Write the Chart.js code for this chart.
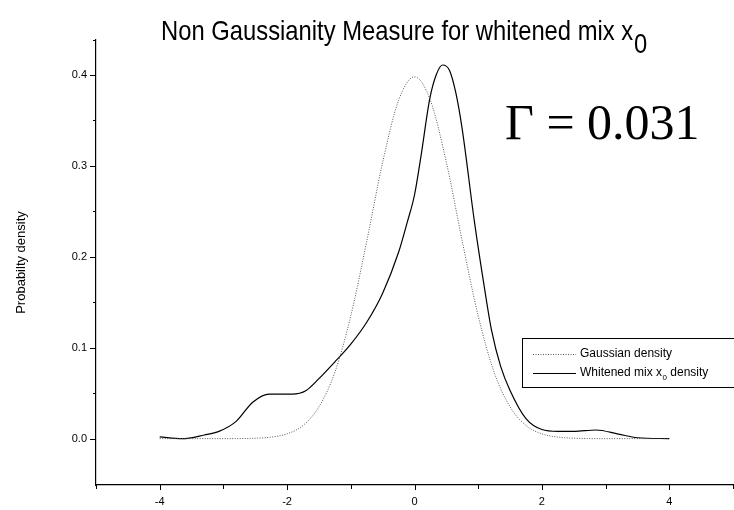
<!DOCTYPE html>
<html>
<head>
<meta charset="utf-8">
<script src="https://cdn.jsdelivr.net/npm/chart.js@4.4.1/dist/chart.umd.min.js"></script>
<style>
  html, body { margin: 0; padding: 0; background: #fff; }
  #wrap { width: 734px; height: 510px; position: relative; }
</style>
</head>
<body>
<div id="wrap"><canvas id="chart" width="734" height="510"></canvas></div>
<script>
// values
gaussX = [-4, -3, -2.5, -2.25, -2, -1.75, -1.5, -1.25, -1, -0.75, -0.5, -0.25, 0,
          0.25, 0.5, 0.75, 1, 1.25, 1.5, 1.75, 2, 2.25, 2.5, 3, 4]
gaussY = [0.000, 0.000, 0.0005, 0.0017, 0.0053, 0.0145, 0.035, 0.073, 0.135, 0.217, 0.304, 0.372, 0.398,
          0.372, 0.304, 0.217, 0.135, 0.073, 0.035, 0.0145, 0.0053, 0.0017, 0.0005, 0.000, 0.000]

mixX = [-4, -3.65, -3.3, -3.07, -2.8, -2.54, -2.28, -2.1, -1.92, -1.7, -1.5, -1.23, -1, -0.75, -0.5, -0.25, -0.11, 0,
        0.1, 0.24, 0.34, 0.44, 0.55, 0.65, 0.75, 0.94, 1.1, 1.21, 1.35, 1.5, 1.75, 2, 2.25, 2.5, 2.85, 3.2, 3.5, 4]
mixY = [0.002, 0.000, 0.004, 0.008, 0.019, 0.040, 0.049, 0.049, 0.049, 0.053, 0.066, 0.086, 0.104, 0.128, 0.160, 0.205, 0.239, 0.268,
        0.310, 0.374, 0.400, 0.411, 0.405, 0.380, 0.340, 0.239, 0.165, 0.119, 0.080, 0.053, 0.022, 0.010, 0.008, 0.008, 0.0095, 0.005, 0.001, 0.000]

xTicks = [-4, -2, 0, 2, 4]
xMinor = [-5, -3, -1, 1, 3, 5]
yTicks = [0.0, 0.1, 0.2, 0.3, 0.4]
yMinor = [0.05, 0.15, 0.25, 0.35]

titleText = 'Non Gaussianity Measure for whitened mix x'
gammaText = '\u0393 = 0.031'

function pts(xs, ys) {
  return xs.map((x, k) => ({ x: x, y: ys[k] }));
}

// title, tick marks, legend and the gamma label
const extras = {
  id: 'extras',
  afterDraw: (chart) => {
    const { ctx, scales: { x, y } } = chart;
    ctx.save();
    ctx.fillStyle = '#000';
    ctx.strokeStyle = '#000';
    ctx.lineWidth = 1;

    // title (narrow look) with a full-size lowered 0
    ctx.save();
    ctx.translate(161, 40);
    ctx.scale(0.85, 1);
    ctx.font = '28px "Liberation Sans", Arial, sans-serif';
    ctx.textBaseline = 'alphabetic';
    ctx.textAlign = 'left';
    ctx.fillText(titleText, 0, 0);
    let w1 = ctx.measureText(titleText).width;
    ctx.fillText('0', w1 + 1, 13);
    ctx.restore();

    // y ticks
    ctx.beginPath();
    yTicks.forEach(v => { let p = Math.round(y.getPixelForValue(v)) + 0.5; ctx.moveTo(x.left - 6, p); ctx.lineTo(x.left, p); });
    yMinor.forEach(v => { let p = Math.round(y.getPixelForValue(v)) + 0.5; ctx.moveTo(x.left - 3, p); ctx.lineTo(x.left, p); });
    ctx.moveTo(x.left - 3, y.top + 0.5); ctx.lineTo(x.left, y.top + 0.5);
    // x ticks
    xTicks.forEach(v => { let p = Math.round(x.getPixelForValue(v)) + 0.5; ctx.moveTo(p, y.bottom); ctx.lineTo(p, y.bottom + 5); });
    xMinor.forEach(v => { let p = Math.round(x.getPixelForValue(v)) + 0.5; ctx.moveTo(p, y.bottom); ctx.lineTo(p, y.bottom + 4); });
    ctx.stroke();

    // legend
    let lx = 522, ly = 338;
    ctx.strokeRect(lx + 0.5, ly + 0.5, 240, 49);
    ctx.font = '12px "Liberation Sans", Arial, sans-serif';
    ctx.textBaseline = 'middle';
    ctx.beginPath();
    ctx.setLineDash([1, 1.5]);
    ctx.strokeStyle = '#555';
    ctx.moveTo(533, 354.5); ctx.lineTo(576, 354.5);
    ctx.stroke();
    ctx.setLineDash([]);
    ctx.strokeStyle = '#000';
    ctx.beginPath();
    ctx.moveTo(533, 373.5); ctx.lineTo(576, 373.5);
    ctx.stroke();
    ctx.fillText(chart.data.datasets[0].label, 580, 354);
    let a = 'Whitened mix x';
    ctx.fillText(a, 580, 373);
    let wa = ctx.measureText(a).width;
    ctx.font = '8px "Liberation Sans", Arial, sans-serif';
    ctx.fillText('0', 580 + wa + 0.5, 378);
    let wb = ctx.measureText('0').width;
    ctx.font = '12px "Liberation Sans", Arial, sans-serif';
    ctx.fillText(' density', 580 + wa + wb + 0.5, 373);

    // gamma label
    ctx.font = '50px "Liberation Serif", "Times New Roman", serif';
    ctx.textBaseline = 'alphabetic';
    ctx.fillText(gammaText, 505, 139);
    ctx.restore();
  }
};

var chart = new Chart('chart', {
  type: 'line',
  data: {
    datasets: [
      {
        label: 'Gaussian density',
        data: pts(gaussX, gaussY),
        borderColor: '#555',
        borderWidth: 1,
        borderDash: [1, 1.5],
        pointRadius: 0,
        fill: false,
        cubicInterpolationMode: 'monotone'
      },
      {
        label: 'Whitened mix x0 density',
        data: pts(mixX, mixY),
        borderColor: '#000',
        borderWidth: 1.2,
        pointRadius: 0,
        fill: false,
        cubicInterpolationMode: 'monotone'
      }
    ]
  },
  options: {
    responsive: false,
    animation: false,
    events: [],
    layout: { padding: { top: 40, right: 1, left: 0, bottom: 0 } },
    plugins: {
      legend: { display: false },
      title: { display: false },
      tooltip: { enabled: false }
    },
    scales: {
      x: {
        type: 'linear',
        min: -5,
        max: 5,
        afterFit: (s) => { s.height = 25; },
        afterBuildTicks: (s) => { s.ticks = xTicks.map(v => ({ value: v })); },
        grid: { display: false, drawTicks: false },
        border: { display: true, color: '#000', width: 1.2 },
        ticks: {
          color: '#000',
          padding: 10,
          font: { family: '"Liberation Sans", Arial, sans-serif', size: 11 },
          maxRotation: 0,
          callback: (v) => String(v)
        }
      },
      y: {
        type: 'linear',
        min: -0.051,
        max: 0.4385,
        afterFit: (s) => { s.width = 96; },
        afterBuildTicks: (s) => { s.ticks = yTicks.map(v => ({ value: v })); },
        grid: { display: false, drawTicks: false },
        border: { display: true, color: '#000', width: 1.2 },
        title: {
          display: true,
          text: 'Probabilty density',
          color: '#000',
          padding: { top: 14, bottom: 0 },
          font: { family: '"Liberation Sans", Arial, sans-serif', size: 13 }
        },
        ticks: {
          color: '#000',
          padding: 9,
          font: { family: '"Liberation Sans", Arial, sans-serif', size: 11 },
          callback: (v) => v.toFixed(1)
        }
      }
    }
  },
  plugins: [extras]
});
</script>
</body>
</html>
